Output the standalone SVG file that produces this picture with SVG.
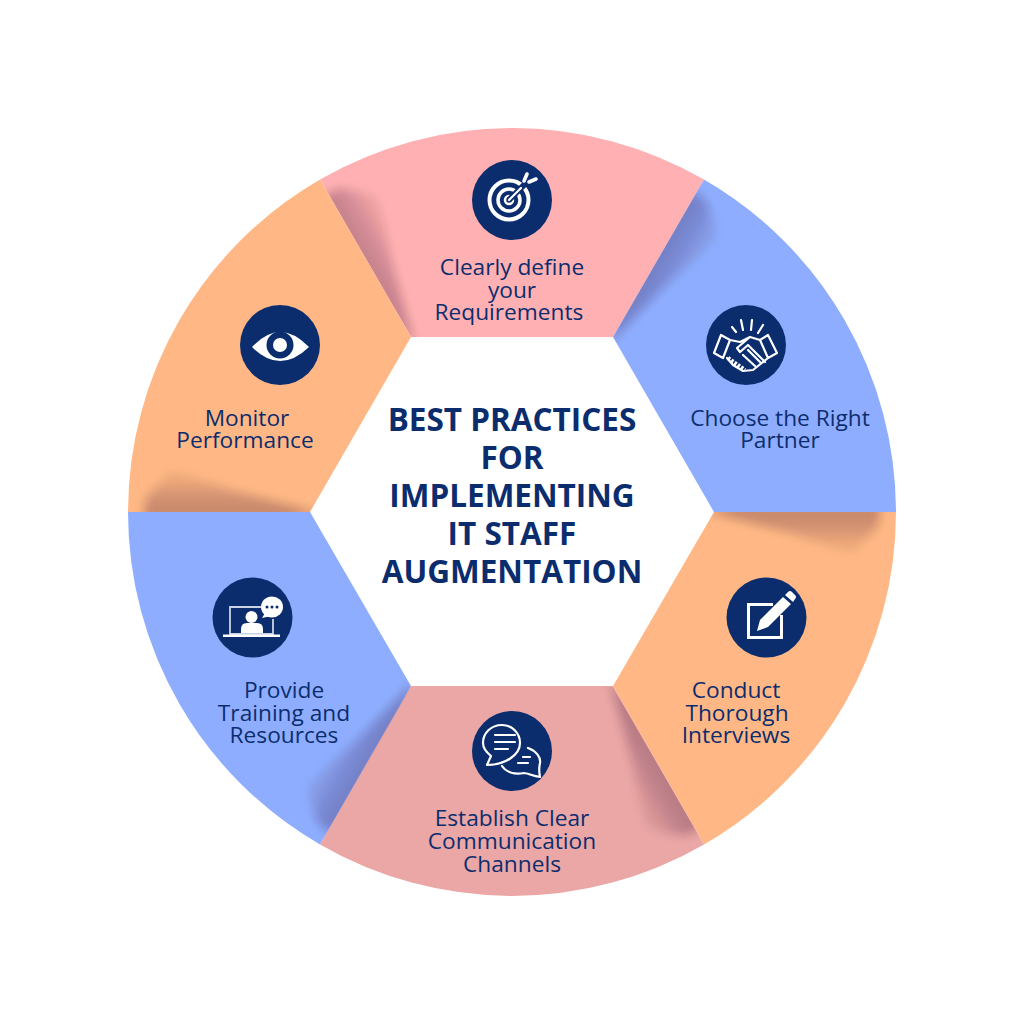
<svg xmlns="http://www.w3.org/2000/svg" width="1024" height="1024" viewBox="0 0 1024 1024">
<style>
.lbl{font-family:"Open Sans","Noto Sans","Liberation Sans",sans-serif;font-size:22.700px;fill:#0b2d6e;text-anchor:middle}
.ttl{font-family:"Open Sans","Noto Sans","Liberation Sans",sans-serif;font-size:31.500px;font-weight:700;fill:#0b2d6e;text-anchor:middle}
.disc{fill:#0b2d6e}
.w{fill:#fff}
.l{fill:none;stroke:#fff;stroke-width:2.200;stroke-linecap:round;stroke-linejoin:round}
.r{fill:none;stroke:#fff}
</style>
<defs>
<filter id="b" x="-40%" y="-40%" width="180%" height="180%"><feGaussianBlur stdDeviation="5"/></filter>
<linearGradient id="sg" gradientUnits="userSpaceOnUse" x1="352" y1="236" x2="392" y2="213">
<stop offset="0" stop-color="#2a1020" stop-opacity=".26"/><stop offset=".35" stop-color="#2a1020" stop-opacity=".2"/><stop offset="1" stop-color="#2a1020" stop-opacity="0"/>
</linearGradient>
<clipPath id="seg"><path d="M320 179.500A384 384 0 0 1 704 179.500L613 337H411Z"/></clipPath>
<g id="shade" clip-path="url(#seg)"><path d="M322 196L340 188L378 196L392 262L415 345L385 310L330 215Z" fill="url(#sg)" filter="url(#b)"/></g>
</defs>
<rect width="1024" height="1024" fill="#fff"/>
<g id="ring">
<g id="seg-top"><path d="M320 179.500A384 384 0 0 1 704 179.500L613 337H411Z" fill="#ffb0b2"/><use href="#shade"/></g>
<g id="seg-right"><path d="M704 179.500A384 384 0 0 1 896 512H714L613 337Z" fill="#8fadff"/><use href="#shade" transform="rotate(60 512 512)"/></g>
<g id="seg-lower-right"><path d="M896 512A384 384 0 0 1 704 844.500L613 686L714 512Z" fill="#ffb885"/><use href="#shade" transform="rotate(120 512 512)"/></g>
<g id="seg-bottom"><path d="M704 844.500A384 384 0 0 1 320 844.500L411 686H613Z" fill="#eba6a6"/><use href="#shade" transform="rotate(180 512 512)"/></g>
<g id="seg-lower-left"><path d="M320 844.500A384 384 0 0 1 128 512H310L411 686Z" fill="#8fadff"/><use href="#shade" transform="rotate(240 512 512)"/></g>
<g id="seg-upper-left"><path d="M128 512A384 384 0 0 1 320 179.500L411 337L310 512Z" fill="#ffb885"/><use href="#shade" transform="rotate(300 512 512)"/></g>
</g>
<g id="connectors"/>
<g id="center"><text class="ttl" x="512" y="431">BEST PRACTICES</text><text class="ttl" x="512" y="469">FOR</text><text class="ttl" x="512" y="507">IMPLEMENTING</text><text class="ttl" x="512" y="545">IT STAFF</text><text class="ttl" x="512" y="583">AUGMENTATION</text></g>
<g id="node-requirements">
<circle class="disc" cx="512" cy="200" r="40"/>
<circle class="r" cx="509" cy="200" r="19.500" stroke-width="4"/><circle class="r" cx="509" cy="200" r="11" stroke-width="3.500"/><circle class="r" cx="509" cy="200" r="4" stroke-width="2.500"/>
<path d="M509 200L526 183" stroke="#0b2d6e" stroke-width="6"/><path d="M509 200L521 188" class="l"/>
<path d="M527 174L524 181M536 179L529 182" stroke="#fff" stroke-width="3.600" stroke-linecap="round"/>
<text class="lbl" x="512" y="275">Clearly define</text><text class="lbl" x="512" y="298">your</text><text class="lbl" x="509" y="320">Requirements</text></g>
<g id="node-partner">
<circle class="disc" cx="746" cy="345" r="40"/>
<path class="l" d="M732 327L736 332M741 320L743 330M752 320L751 330M763 325L758 333M721 335L730 340L723 358L714 353ZM768 335L760 340L768 358L777 353ZM730 340L740 342L750 337L760 340M768 358L753 370L743 371L733 365L727 358M750 337L737 348L740 352L748 345L765 362M743 355L755 366M748 350L760 362"/>
<path d="M728 358L745 370" stroke="#fff" stroke-width="4" stroke-dasharray="2.500 1.500" fill="none"/>
<text class="lbl" x="780" y="426">Choose the Right</text><text class="lbl" x="780" y="448">Partner</text></g>
<g id="node-interviews">
<circle class="disc" cx="766.500" cy="617.500" r="40"/>
<path d="M773 604.500H748.500V637.500H781.500V615" fill="none" stroke="#fff" stroke-width="3"/>
<path d="M757 631L760 620L783 597L791 604L768 627ZM785 595L788 592Q790 590 792 592L795 595Q797 597 795 599L793 602Z" class="w"/>
<text class="lbl" x="736" y="698">Conduct</text><text class="lbl" x="737" y="721">Thorough</text><text class="lbl" x="736" y="743">Interviews</text></g>
<g id="node-communication">
<circle class="disc" cx="512" cy="751" r="40"/>
<path class="l" d="M487 765L491 756C486 752 483 748 483 743C483 733 491 725 502 725C512 725 520 733 520 743C520 755 505 765 487 765Z"/>
<path class="l" d="M495 735H515M495 742H515M495 749H508M528 748C536 751 541 757 540 763C539 767 539 772 540 777C533 776 527 773 524 773C514 775 506 772 502 766M518 763H528M523 757H530"/>
<text class="lbl" x="512" y="826">Establish Clear</text><text class="lbl" x="512" y="849">Communication</text><text class="lbl" x="512" y="872">Channels</text></g>
<g id="node-training">
<circle class="disc" cx="252.500" cy="617.500" r="40"/>
<path d="M261 607H230V634H273V619" fill="none" stroke="#c9d3e6" stroke-width="1.800"/>
<rect class="w" x="223" y="634.500" width="57" height="2.500"/>
<circle class="w" cx="251.500" cy="617" r="6"/><path class="w" d="M241 633V629Q241 623 247 623H257Q263 623 263 629V633Z"/>
<ellipse class="w" cx="272" cy="607" rx="11" ry="10.500"/><path class="w" d="M265 613L262 618L271 616Z"/>
<circle class="disc" cx="267" cy="607" r="1.500"/><circle class="disc" cx="272" cy="607" r="1.500"/><circle class="disc" cx="277" cy="607" r="1.500"/>
<text class="lbl" x="284" y="698">Provide</text><text class="lbl" x="284" y="721">Training and</text><text class="lbl" x="284" y="743">Resources</text></g>
<g id="node-performance">
<circle class="disc" cx="280" cy="345" r="40"/>
<path class="w" d="M252 347Q280 317 309 347Q280 375 252 347Z"/>
<circle class="disc" cx="280" cy="345" r="13.500"/><circle class="w" cx="280" cy="345" r="7"/>
<text class="lbl" x="247" y="426">Monitor</text><text class="lbl" x="245" y="448">Performance</text></g>
</svg>
